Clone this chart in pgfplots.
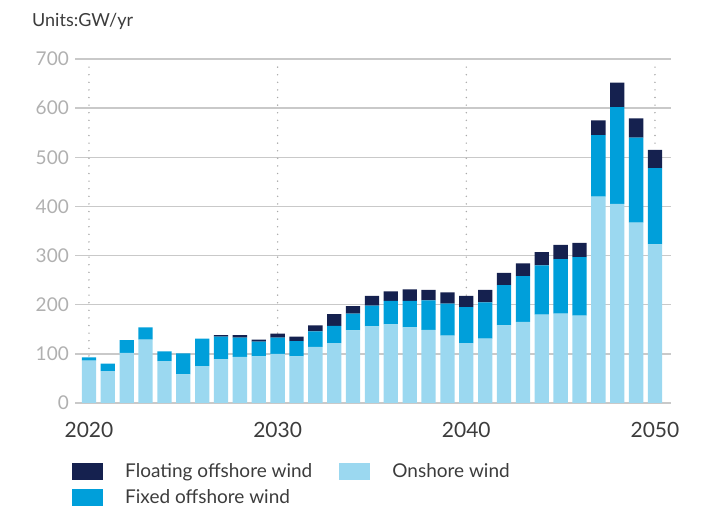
\documentclass[border=0pt]{standalone}
\usepackage{fontspec}
\setmainfont{Lato}
\usepackage{pgfplots}
\usepackage{pgfplotstable}
\pgfplotsset{compat=1.18}
\definecolor{floatc}{HTML}{15214F}
\definecolor{fixedc}{HTML}{009FDA}
\definecolor{onc}{HTML}{9BD8F0}
\definecolor{gridc}{HTML}{C9C9C9}
\definecolor{ylab}{HTML}{B0B0B0}
\definecolor{xlab}{HTML}{3C3C3C}
\definecolor{dotc}{HTML}{A8A8A8}

\pgfplotstableread{
year on fixed float
2020 86 7 0
2021 65 15 0
2022 102 26 0
2023 129 25 0
2024 85 20 0
2025 58 43 0
2026 75 56 0
2027 89 46 3
2028 94 39 5
2029 95 30 4
2030 100 33 8
2031 95 31 9
2032 114 32 12
2033 122 35 24
2034 148 34 15
2035 156 42 20
2036 160 48 19
2037 154 54 23
2038 149 60 21
2039 137 65 23
2040 122 73 23
2041 131 74 25
2042 158 82 25
2043 165 93 26
2044 180 100 27
2045 182 111 29
2046 178 119 29
2047 420 125 30
2048 405 197 50
2049 367 173 39
2050 323 155 37
}\windtable

\begin{document}
\begin{tikzpicture}
\useasboundingbox (0,0) rectangle (717pt,511pt);
\node[anchor=base west, font=\fontsize{18}{21}\selectfont, text=xlab, inner sep=0pt] at (32pt,484pt) {Units:GW/yr};
\begin{axis}[
  at={(75pt,108pt)}, anchor=south west,
  scale only axis, width=596pt, height=344pt,
  xmin=2019.26, xmax=2050.85, ymin=0, ymax=700,
  ybar stacked, bar width=14.3pt,
  axis line style={draw=none},
  tick style={draw=none},
  ytick={0,100,...,700},
  xtick={2020,2030,2040,2050},
  ymajorgrids, grid style={gridc, line width=1.3pt},
  /pgf/number format/assume math mode=true,
  /pgf/number format/1000 sep={},
  xticklabel style={anchor=center, yshift=-27pt, font=\fontsize{21}{24}\selectfont, text=xlab},
  yticklabel style={anchor=east, font=\fontsize{19}{22}\selectfont, text=ylab, inner sep=6pt},
  legend image code/.code={\fill[#1, draw=none] (0pt,-2pt) rectangle (31pt,15pt);},
  legend style={at={(-0.005,-0.1744)}, anchor=north west, draw=none, fill=none,
    inner sep=0pt, font=\fontsize{19}{22}\selectfont, text=xlab,
    nodes={inner sep=0pt}, row sep=9pt,
    /tikz/every odd column/.append style={column sep=22pt},
    /tikz/every even column/.append style={column sep=27pt, nodes={yshift=7pt}}},
  legend columns=2, legend cell align=left,
]
\addplot[fill=onc, draw=none, forget plot] table[x=year, y=on] {\windtable};
\addplot[fill=fixedc, draw=none, forget plot] table[x=year, y=fixed] {\windtable};
\addplot[fill=floatc, draw=none, forget plot] table[x=year, y=float] {\windtable};
\addlegendimage{fill=floatc, draw=none}
\addlegendentry{Floating offshore wind}
\addlegendimage{fill=onc, draw=none}
\addlegendentry{Onshore wind}
\addlegendimage{fill=fixedc, draw=none}
\addlegendentry{Fixed offshore wind}
\foreach \yr in {2020,2030,2040,2050} {
  \edef\tmp{\noexpand\draw[dotc, line width=1.6pt, line cap=round, dash pattern=on 0pt off 7.6pt] (axis cs:\yr,3) -- (axis cs:\yr,692);}
  \tmp
}
\end{axis}
\end{tikzpicture}
\end{document}
